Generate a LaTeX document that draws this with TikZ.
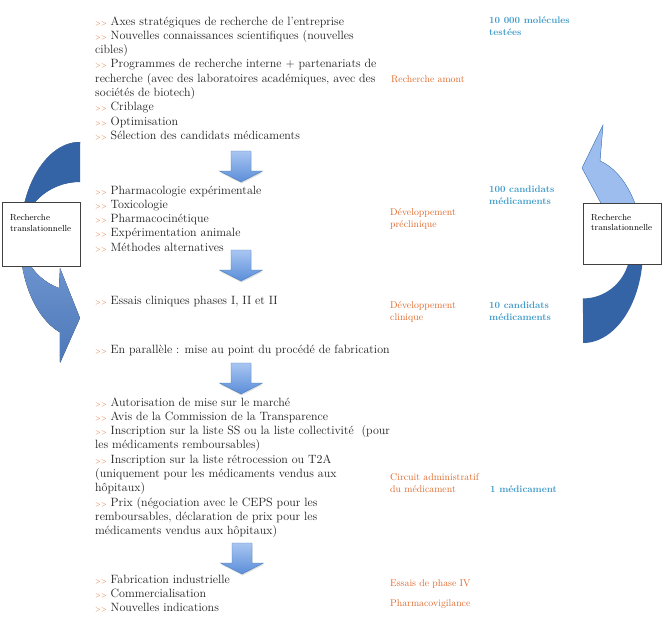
\documentclass[tikz,border=0pt]{standalone}
\usetikzlibrary{positioning,shadows}

\definecolor{orangelbl}{HTML}{E0692B}
\definecolor{bluelbl}{HTML}{3F9BC9}
\definecolor{arrowedge}{HTML}{4A7EBB}
\definecolor{arrowdark}{HTML}{3464A5}
\definecolor{arrowlite}{HTML}{A9C6F2}
\definecolor{arrowmid}{HTML}{5A8DD8}

% orange marker in front of each item
\newcommand{\puce}{{\color{orangelbl}\fontsize{6.5}{6}\selectfont>{}>}\ }
% small down block arrow: centre x, top y
\newcommand{\blockarrow}[2]{%
  \draw[downblock] (#1-10,#2) -- (#1+10,#2) -- (#1+10,#2+20) -- (#1+21.5,#2+20)
    -- (#1,#2+31) -- (#1-21.5,#2+20) -- (#1-10,#2+20) -- cycle;}

\tikzset{
  steps/.style={font=\fontsize{12}{14.3}\selectfont, text=black!88, align=left,
                inner sep=0pt, anchor=base west},
  phase/.style={font=\fontsize{9.8}{12}\selectfont, text=orangelbl, align=left,
                inner sep=0pt, anchor=base west},
  count/.style={font=\fontsize{9.5}{12}\selectfont\bfseries, text=bluelbl, align=left,
                inner sep=0pt, anchor=base west},
  transbox/.style={draw=black!75, fill=white, font=\fontsize{8.8}{10.5}\selectfont,
                   align=left, text width=62pt, inner xsep=8pt, inner ysep=0pt,
                   anchor=north west},
  downblock/.style={draw=arrowedge, top color=arrowlite, bottom color=arrowmid,
                    drop shadow={shadow xshift=0.5pt, shadow yshift=-1.5pt, opacity=0.25}}
}

\begin{document}
\begin{tikzpicture}[x=1pt,y=-1pt]
\useasboundingbox[fill=white] (0,0) rectangle (664,625);

% left curved arrow
\fill[top color=arrowlite!70!arrowmid, bottom color=arrowmid!85!black]
  (80,142) arc[start angle=270, end angle=109.5, x radius=60, y radius=98]
  -- (60,363) -- (80,318) -- (60,268) -- (59,288)
  arc[start angle=111.2, end angle=270, x radius=58, y radius=55] -- cycle;
\fill[arrowdark]
  (80,142) arc[start angle=270, end angle=180, x radius=60, y radius=98]
  -- (22,237) arc[start angle=180, end angle=270, x radius=58, y radius=55] -- cycle;

% right curved arrow
\fill[arrowdark]
  (583,343) arc[start angle=90, end angle=-73.5, x radius=60, y radius=93]
  -- (603,125) -- (582,168) -- (603,207)
  arc[start angle=-64.8, end angle=90, x radius=47, y radius=48] -- cycle;
\filldraw[draw=arrowedge, fill=arrowlite!85!arrowmid]
  (643,250) arc[start angle=0, end angle=-73.5, x radius=60, y radius=93]
  -- (603,125) -- (582,168) -- (603,207)
  arc[start angle=-64.8, end angle=0, x radius=47, y radius=48] -- cycle;

\node[transbox, text height=18.5pt, text depth=45.5pt] (rtleft) at (2,202)
  {Recherche\\translationnelle};
\node[transbox, text height=17pt, text depth=44pt] (rtright) at (583,203)
  {Recherche\\translationnelle};

% steps (base = last line)
\node[steps] (amont) at (95,139.4) {\puce Axes stratégiques de recherche de l’entreprise\\
\puce Nouvelles connaissances scientifiques (nouvelles\\
cibles)\\
\puce Programmes de recherche interne + partenariats de\\
recherche (avec des laboratoires académiques, avec des\\
sociétés de biotech)\\
\puce Criblage\\
\puce Optimisation\\
\puce Sélection des candidats médicaments};
\node[steps] (precli) at (95,251.2) {\puce Pharmacologie expérimentale\\
\puce Toxicologie\\
\puce Pharmacocinétique\\
\puce Expérimentation animale\\
\puce Méthodes alternatives};
\node[steps] (cli) at (95,304) {\puce Essais cliniques phases I, II et II};
\node[steps] (para) at (95,353) {\puce En parallèle : mise au point du procédé de fabrication};
\node[steps] (admin) at (95,534.7) {\puce Autorisation de mise sur le marché\\
\puce Avis de la Commission de la Transparence\\
\puce Inscription sur la liste SS ou la liste collectivité~ (pour\\
les médicaments remboursables)\\
\puce Inscription sur la liste rétrocession ou T2A\\
(uniquement pour les médicaments vendus aux\\
hôpitaux)\\
\puce Prix (négociation avec le CEPS pour les\\
remboursables, déclaration de prix pour les\\
médicaments vendus aux hôpitaux)};
\node[steps] (indus) at (95,611.6) {\puce Fabrication industrielle\\
\puce Commercialisation\\
\puce Nouvelles indications};

\blockarrow{241}{151}
\blockarrow{241}{250}
\blockarrow{241}{363}
\blockarrow{242}{543}

% phases
\node[phase] (ramont) at (391,82) {Recherche amont};
\node[phase] (dpre) at (390,227.5) {Développement\\préclinique};
\node[phase] (dcli) at (390,320.5) {Développement\\clinique};
\node[phase] (circ) at (390,492.5) {Circuit administratif\\du médicament};
\node[phase] (ph4) at (390,586.5) {Essais de phase IV};
\node[phase] (pvig) at (390,606.5) {Pharmacovigilance};

% number of candidates
\node[count] (n10000) at (489,35.5) {10 000 molécules\\testées};
\node[count] (n100) at (489,204) {100 candidats\\médicaments};
\node[count] (n10) at (489,320) {10 candidats\\médicaments};
\node[count] (n1) at (490,492.5) {1 médicament};
\end{tikzpicture}
\end{document}
